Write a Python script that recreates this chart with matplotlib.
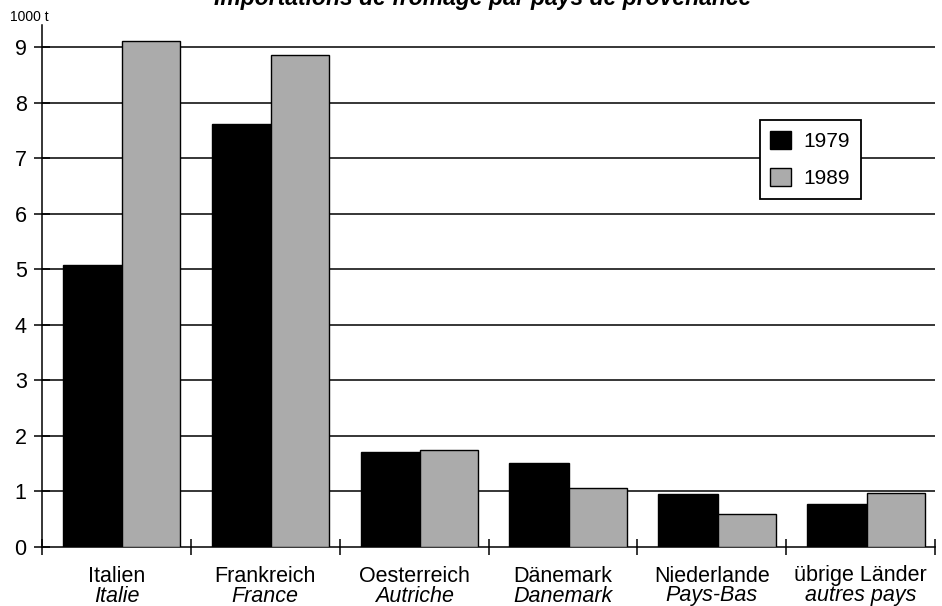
import matplotlib.pyplot as plt
from matplotlib.transforms import blended_transform_factory

# 데이터
laender_de = ['Italien', 'Frankreich', 'Oesterreich', 'Dänemark', 'Niederlande', 'übrige Länder']
laender_fr = ['Italie', 'France', 'Autriche', 'Danemark', 'Pays-Bas', 'autres pays']
werte_1979 = [5.08, 7.62, 1.71, 1.51, 0.95, 0.77]
werte_1989 = [9.12, 8.86, 1.74, 1.06, 0.59, 0.97]
y_ticks = [0, 1, 2, 3, 4, 5, 6, 7, 8, 9]

plt.rcParams['font.family'] = ['Liberation Sans', 'DejaVu Sans']

fig = plt.figure(figsize=(9.42, 6.06), dpi=100)
ax = fig.add_axes([0.0446, 0.0974, 0.948, 0.861])

# 가로 격자선
for y in y_ticks[1:]:
    ax.axhline(y, color='black', linewidth=1.1, zorder=1)

x = list(range(len(laender_de)))
ax.bar([i + 0.14 for i in x], werte_1979, width=0.40, align='edge',
       color='black', edgecolor='black', linewidth=1, label='1979', zorder=3)
ax.bar([i + 0.54 for i in x], werte_1989, width=0.39, align='edge',
       color='#ababab', edgecolor='black', linewidth=1, label='1989', zorder=3)

ax.set_xlim(0, 6)
ax.set_ylim(0, 9.4)
ax.set_yticks(y_ticks)
ax.set_yticklabels([str(v) for v in y_ticks], fontsize=15.5)
ax.set_xticks(range(7))
ax.set_xticklabels([])
ax.tick_params(axis='both', direction='inout', length=12, width=1.1, color='black')
ax.tick_params(axis='y', pad=5)

for s in ['top', 'right']:
    ax.spines[s].set_visible(False)
ax.spines['left'].set_linewidth(1.1)
ax.spines['bottom'].set_linewidth(1.1)

# 두 줄 범주 라벨
tr = blended_transform_factory(ax.transData, fig.transFigure)
for i in x:
    ax.text(i + 0.5, 1 - 576 / 606, laender_de[i], transform=tr, ha='center',
            va='center', fontsize=15.5)
    ax.text(i + 0.5, 1 - 596 / 606, laender_fr[i], transform=tr, ha='center',
            va='center', fontsize=15.5, style='italic')

fig.text(0.011, 1 - 17 / 606, '1000 t', fontsize=10, va='center', ha='left')
fig.text(0.512, 1 - 5 / 606, 'Importations de fromage par pays de provenance',
         fontsize=16.5, fontweight='bold', style='italic', ha='center', va='baseline')

leg = ax.legend(loc='upper left', bbox_to_anchor=(0.804, 0.818), fontsize=15,
                frameon=True, fancybox=False, edgecolor='black', framealpha=1,
                handlelength=1.0, handleheight=1.0, labelspacing=0.8,
                borderpad=0.5, handletextpad=0.6, borderaxespad=0)
leg.get_frame().set_linewidth(1.3)
leg.set_zorder(5)

fig.savefig('out.png', dpi=100)
